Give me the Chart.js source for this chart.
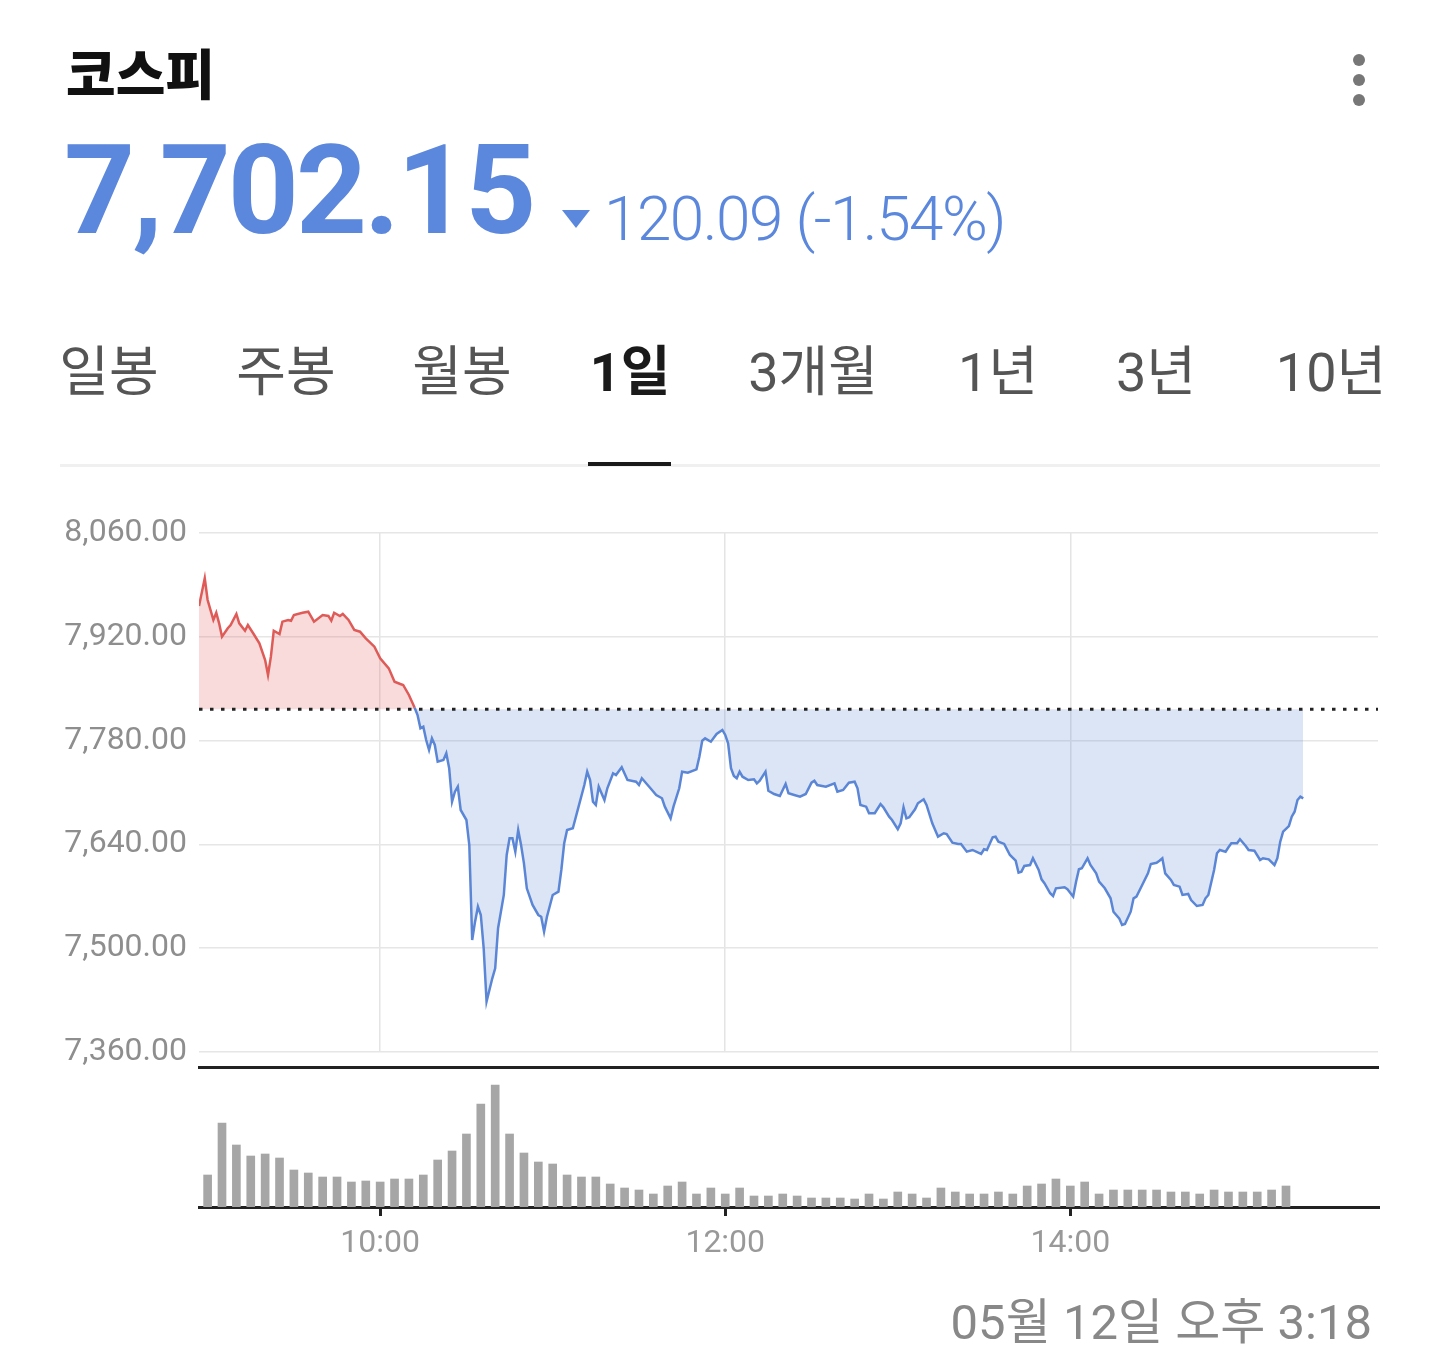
<!DOCTYPE html>
<html lang="ko">
  <head>
    <meta charset="UTF-8" />
    <title>코스피 - 1일</title>
    <script src="https://cdn.jsdelivr.net/npm/chart.js"></script>
    <style>
      body {
        margin: 0;
        width: 1440px;
        height: 1361px;
        overflow: hidden;
        background: #fff;
        font-family: Roboto, "Noto Sans CJK KR", sans-serif;
        position: relative;
      }
      .abs {
        position: absolute;
        white-space: nowrap;
        line-height: 1;
      }
      .title {
        left: 66px;
        top: 45px;
        font-family: "Noto Sans CJK KR", sans-serif;
        font-size: 54px;
        font-weight: 900;
        color: #111;
      }
      .menu span {
        position: absolute;
        left: 1353px;
        width: 12px;
        height: 12px;
        border-radius: 50%;
        background: #777;
      }
      .price {
        left: 64px;
        top: 129px;
        font-size: 124px;
        font-weight: 700;
        color: #5b87dc;
        letter-spacing: -3px;
      }
      .arrow {
        position: absolute;
        left: 562px;
        top: 210px;
        width: 0;
        height: 0;
        border-left: 14px solid transparent;
        border-right: 14px solid transparent;
        border-top: 18px solid #5b87dc;
      }
      .change {
        left: 604px;
        top: 188px;
        font-size: 62px;
        font-weight: 300;
        color: #5b87dc;
        letter-spacing: -1.5px;
      }
      .tab {
        top: 346px;
        font-size: 54px;
        color: #555;
        transform: translateX(-50%);
      }
      .tab.on {
        font-weight: 700;
        color: #1a1a1a;
      }
      .sep {
        position: absolute;
        left: 60px;
        top: 464px;
        width: 1320px;
        height: 3px;
        background: #f0f0f0;
      }
      .under {
        position: absolute;
        left: 588px;
        top: 462px;
        width: 83px;
        height: 4px;
        background: #1a1a1a;
      }
      .stamp {
        right: 68px;
        top: 1298px;
        font-size: 49px;
        color: #888;
      }
      .box {
        position: absolute;
        left: 0;
        width: 1440px;
      }
    </style>
  </head>
  <body>
    <div class="abs title">코스피</div>
    <div class="menu">
      <span style="top: 54px"></span>
      <span style="top: 74px"></span>
      <span style="top: 94px"></span>
    </div>
    <div class="abs price">7,702.15</div>
    <div class="arrow"></div>
    <div class="abs change">120.09 (-1.54%)</div>

    <div class="abs tab" style="left: 109px">일봉</div>
    <div class="abs tab" style="left: 286px">주봉</div>
    <div class="abs tab" style="left: 462px">월봉</div>
    <div class="abs tab on" style="left: 630px">1일</div>
    <div class="abs tab" style="left: 813px">3개월</div>
    <div class="abs tab" style="left: 998px">1년</div>
    <div class="abs tab" style="left: 1156px">3년</div>
    <div class="abs tab" style="left: 1331px">10년</div>
    <div class="sep"></div>
    <div class="under"></div>

    <div class="box" style="top: 490px; height: 600px"><canvas id="priceChart"></canvas></div>
    <div class="box" style="top: 1040px; height: 240px"><canvas id="volumeChart"></canvas></div>

    <div class="abs stamp">05월 12일 오후 3:18</div>

    <script>
      // previous close = 7,702.15 + 120.09
      const prevClose = 7822.24;

      // x axis: minutes after 09:00
      const xMin = -3;
      const xMax = 407;
      const xTickMinutes = [60, 180, 300];
      const xTickLabels = ["10:00", "12:00", "14:00"];
      const yTicks = [7360, 7500, 7640, 7780, 7920, 8060];

      // intraday index, minutes after 09:00
      const times = [
        -3, -1, 0, 2, 3, 4, 5, 7, 8, 10,
        11, 13, 14, 16, 18, 20, 21, 22, 23, 25,
        26, 28, 29, 30, 33, 35, 37, 40, 42, 43,
        44, 46, 47, 49, 51, 53, 55, 58, 60, 63,
        65, 67, 68, 70, 72, 73, 74, 75, 76, 77,
        78, 79, 80, 82, 83, 84, 85, 86, 87, 88,
        90, 91, 92, 93, 94, 95, 96, 97, 99, 100,
        101, 103, 104, 105, 106, 107, 108, 109, 110, 111,
        113, 115, 116, 117, 118, 120, 122, 123, 124, 125,
        127, 129, 131, 132, 133, 134, 135, 136, 138, 139,
        141, 142, 144, 146, 149, 150, 151, 154, 156, 158,
        159, 161, 162, 164, 165, 167, 170, 171, 172, 173,
        175, 177, 179, 180, 181, 182, 183, 184, 185, 186,
        188, 190, 191, 192, 194, 195, 197, 199, 201, 202,
        204, 206, 208, 210, 211, 212, 215, 218, 219, 221,
        223, 225, 226, 227, 229, 230, 232, 234, 235, 237,
        238, 240, 241, 242, 243, 244, 246, 247, 249, 250,
        252, 254, 256, 257, 259, 261, 262, 264, 266, 268,
        269, 270, 271, 273, 274, 275, 277, 279, 281, 282,
        283, 284, 286, 287, 289, 290, 291, 293, 294, 295,
        298, 299, 301, 302, 303, 304, 306, 307, 309, 310,
        312, 314, 315, 317, 318, 319, 321, 322, 323, 325,
        327, 328, 330, 331, 332, 333, 335, 336, 338, 339,
        341, 342, 344, 346, 347, 348, 350, 351, 352, 354,
        355, 356, 358, 359, 361, 362, 364, 366, 367, 369,
        371, 372, 373, 374, 376, 377, 378, 379, 380, 381,
      ];
      const prices = [
        7961.5, 7998.9, 7969.6, 7942.7, 7952.5, 7938.2, 7920.1, 7931.5, 7935.9, 7950.8,
        7938.2, 7928.2, 7935.9, 7923.8, 7911.2, 7888.7, 7868.5, 7893.2, 7928.2, 7923.8,
        7940.4, 7942.7, 7941.7, 7949.4, 7952.5, 7953.9, 7940.4, 7949.4, 7948.1, 7941.7,
        7952.5, 7948.1, 7950.8, 7942.7, 7929.2, 7926.9, 7918.0, 7906.7, 7891.0, 7877.5,
        7859.4, 7856.3, 7855.0, 7841.5, 7824.4, 7814.5, 7796.6, 7798.8, 7780.8, 7767.3,
        7783.1, 7774.1, 7751.6, 7753.8, 7762.9, 7742.7, 7697.6, 7711.1, 7717.8, 7686.4,
        7672.9, 7639.2, 7511.1, 7535.8, 7556.0, 7544.8, 7499.9, 7427.9, 7459.4, 7472.9,
        7526.9, 7571.8, 7625.7, 7648.2, 7648.2, 7630.2, 7659.4, 7639.2, 7614.5, 7580.8,
        7558.3, 7544.8, 7542.5, 7522.3, 7542.5, 7571.8, 7576.2, 7605.5, 7641.5, 7659.4,
        7661.7, 7690.9, 7720.1, 7738.1, 7726.9, 7697.6, 7693.2, 7717.8, 7699.9, 7715.7,
        7735.9, 7733.6, 7744.0, 7726.9, 7724.6, 7720.1, 7729.2, 7715.7, 7706.6, 7702.2,
        7690.9, 7675.2, 7690.9, 7715.7, 7738.1, 7736.7, 7741.3, 7758.3, 7779.9, 7783.1,
        7778.5, 7788.9, 7794.3, 7787.6, 7776.4, 7742.7, 7732.3, 7729.2, 7738.1, 7731.3,
        7726.9, 7727.8, 7722.4, 7725.9, 7738.1, 7712.4, 7708.0, 7705.3, 7721.5, 7708.9,
        7706.6, 7704.4, 7708.0, 7723.2, 7725.9, 7720.1, 7717.8, 7722.4, 7711.1, 7713.4,
        7723.2, 7724.6, 7715.7, 7693.2, 7690.9, 7682.0, 7682.0, 7694.5, 7690.0, 7677.4,
        7672.9, 7660.4, 7668.5, 7690.0, 7675.2, 7676.6, 7687.4, 7695.4, 7700.8, 7693.2,
        7668.5, 7650.4, 7655.0, 7654.0, 7642.3, 7640.6, 7640.6, 7630.2, 7632.5, 7628.8,
        7627.1, 7633.4, 7632.5, 7649.6, 7650.4, 7643.7, 7640.6, 7625.7, 7618.0, 7601.8,
        7603.2, 7610.9, 7612.2, 7621.3, 7605.5, 7592.9, 7587.6, 7574.1, 7570.4, 7580.8,
        7582.2, 7579.5, 7569.5, 7589.7, 7606.4, 7607.8, 7621.3, 7612.2, 7601.0, 7589.7,
        7580.8, 7567.3, 7549.2, 7540.3, 7531.3, 7532.7, 7549.2, 7567.3, 7569.5, 7585.3,
        7601.0, 7613.6, 7615.3, 7618.0, 7621.3, 7601.0, 7592.0, 7585.3, 7583.0, 7571.8,
        7573.1, 7565.0, 7556.9, 7558.3, 7567.3, 7571.8, 7605.5, 7628.0, 7632.5, 7630.2,
        7636.1, 7641.5, 7641.5, 7646.9, 7637.9, 7632.5, 7631.5, 7619.0, 7621.3, 7619.9,
        7612.2, 7621.3, 7643.7, 7657.1, 7664.8, 7677.4, 7684.1, 7699.9, 7704.4, 7702.15,
      ];

      // 5-minute volume bars (relative units)
      const volTimes = [
        0, 5, 10, 15, 20, 25, 30, 35, 40, 45,
        50, 55, 60, 65, 70, 75, 80, 85, 90, 95,
        100, 105, 110, 115, 120, 125, 130, 135, 140, 145,
        150, 155, 160, 165, 170, 175, 180, 185, 190, 195,
        200, 205, 210, 215, 220, 225, 230, 235, 240, 245,
        250, 255, 260, 265, 270, 275, 280, 285, 290, 295,
        300, 305, 310, 315, 320, 325, 330, 335, 340, 345,
        350, 355, 360, 365, 370, 375,
      ];
      const volumes = [
        32, 84, 62, 51, 53, 49, 37, 34, 30, 30,
        25, 26, 25, 28, 28, 32, 47, 56, 73, 103,
        122, 73, 54, 45, 43, 32, 30, 30, 23, 19,
        17, 13, 21, 25, 13, 19, 13, 19, 11, 11,
        13, 11, 9, 9, 9, 8, 13, 8, 15, 13,
        9, 19, 15, 13, 13, 15, 13, 21, 23, 28,
        21, 25, 13, 17, 17, 17, 17, 15, 15, 13,
        17, 15, 15, 15, 17, 21,
      ];

      const RED = "#de5b58";
      const BLUE = "#5b86d6";
      const labelFont = { family: "Roboto", size: 32 };

      const pricePoints = times.map((t, i) => ({ x: t, y: prices[i] }));

      new Chart(document.getElementById("priceChart"), {
        type: "line",
        data: {
          datasets: [
            {
              data: pricePoints,
              borderColor: BLUE,
              borderWidth: 2.5,
              pointRadius: 0,
              tension: 0,
              order: 1,
              fill: {
                target: { value: prevClose },
                above: "rgba(222, 91, 88, 0.22)",
                below: "rgba(91, 134, 214, 0.21)",
              },
              segment: {
                borderColor: (ctx) =>
                  (ctx.p0.parsed.y + ctx.p1.parsed.y) / 2 >= prevClose ? RED : BLUE,
              },
            },
            {
              // previous close reference line
              data: [
                { x: xMin, y: prevClose },
                { x: xMax, y: prevClose },
              ],
              borderColor: "#222",
              borderWidth: 3,
              borderDash: [3.5, 7.5],
              pointRadius: 0,
              fill: false,
              order: 0,
            },
          ],
        },
        options: {
          responsive: true,
          maintainAspectRatio: false,
          animation: false,
          layout: { padding: { left: 0, right: 62, top: 43, bottom: 38 } },
          plugins: { legend: { display: false }, tooltip: { enabled: false } },
          scales: {
            x: {
              type: "linear",
              min: xMin,
              max: xMax,
              afterBuildTicks: (scale) => {
                scale.ticks = xTickMinutes.map((v) => ({ value: v }));
              },
              afterFit: (scale) => {
                scale.height = 0;
              },
              ticks: { display: false },
              grid: { color: "#e4e4e4", lineWidth: 1.5, drawTicks: false },
              border: { display: false },
            },
            y: {
              min: yTicks[0],
              max: yTicks[yTicks.length - 1],
              afterBuildTicks: (scale) => {
                scale.ticks = yTicks.map((v) => ({ value: v }));
              },
              afterFit: (scale) => {
                scale.width = 199;
              },
              ticks: {
                padding: 12,
                color: "#8e8e8e",
                font: labelFont,
                callback: (v) =>
                  v.toLocaleString("en-US", {
                    minimumFractionDigits: 2,
                    maximumFractionDigits: 2,
                  }),
              },
              grid: { color: "#e6e6e6", lineWidth: 1.5, drawTicks: false },
              border: { display: false },
            },
          },
        },
      });

      new Chart(document.getElementById("volumeChart"), {
        type: "bar",
        data: {
          datasets: [
            {
              data: volTimes.map((t, i) => ({ x: t, y: volumes[i] })),
              backgroundColor: "#a6a6a6",
              barThickness: 8,
            },
          ],
        },
        options: {
          responsive: true,
          maintainAspectRatio: false,
          animation: false,
          layout: { padding: { left: 199, right: 62, top: 27, bottom: 0 } },
          plugins: { legend: { display: false }, tooltip: { enabled: false } },
          scales: {
            x: {
              type: "linear",
              min: xMin,
              max: xMax,
              offset: false,
              afterBuildTicks: (scale) => {
                scale.ticks = xTickMinutes.map((v) => ({ value: v }));
              },
              afterFit: (scale) => {
                scale.height = 73;
              },
              ticks: {
                padding: 9,
                color: "#999",
                font: labelFont,
                maxRotation: 0,
                callback: (v) => xTickLabels[xTickMinutes.indexOf(v)],
              },
              grid: {
                offset: false,
                drawOnChartArea: false,
                drawTicks: true,
                tickLength: 9,
                color: "#222",
                lineWidth: 3,
              },
              border: { display: true, color: "#222", width: 3 },
            },
            xTop: {
              type: "linear",
              position: "top",
              min: xMin,
              max: xMax,
              afterFit: (scale) => {
                scale.height = 0;
              },
              ticks: { display: false },
              grid: { display: false },
              border: { display: true, color: "#222", width: 3 },
            },
            y: {
              display: false,
              min: 0,
              max: 140,
            },
          },
        },
      });
    </script>
  </body>
</html>
